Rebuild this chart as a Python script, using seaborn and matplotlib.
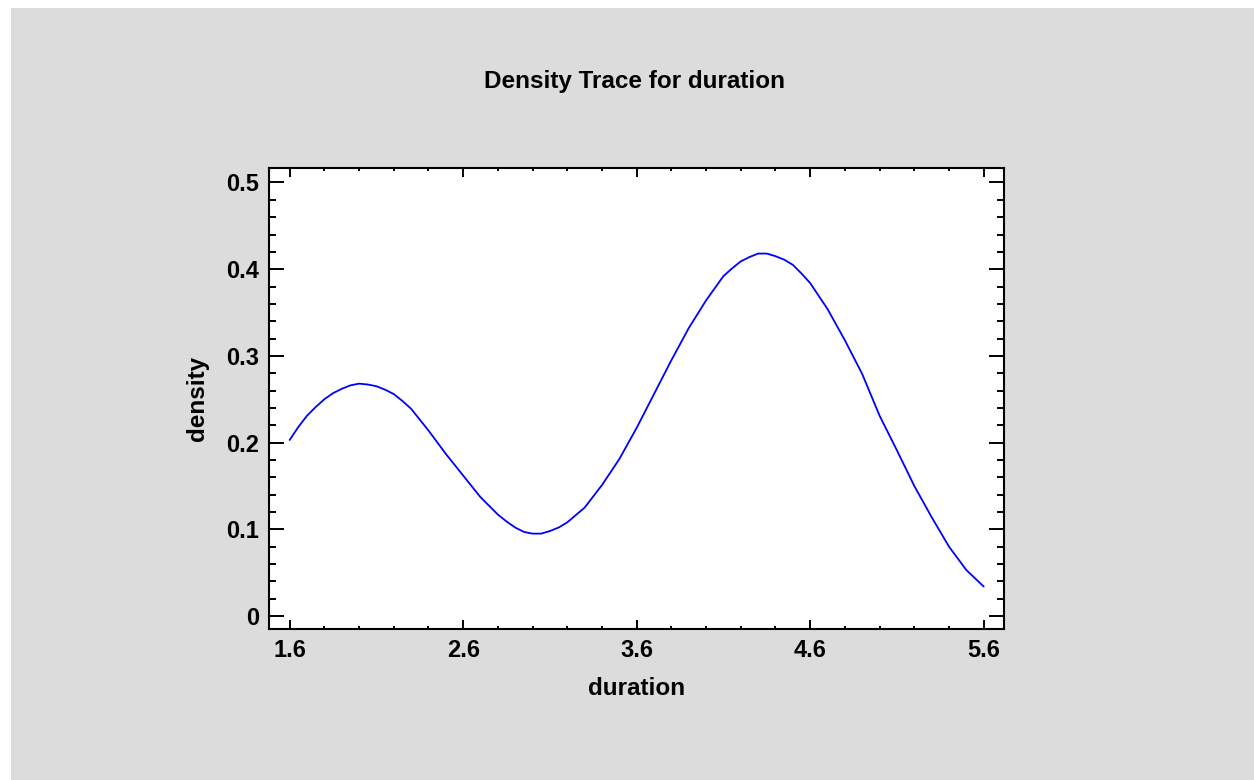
import numpy as np
import pandas as pd
import matplotlib
matplotlib.use('Agg')
import matplotlib.pyplot as plt
import matplotlib.patches as patches
from matplotlib.ticker import MultipleLocator, FixedLocator
import seaborn as sns

# density trace (every 0.1, plus extra reads near the bends)
duration = [1.6, 1.65, 1.7, 1.75, 1.8, 1.85, 1.9, 1.95, 2.0, 2.05, 2.1, 2.15, 2.2, 2.25,
            2.3, 2.4, 2.5, 2.6, 2.7, 2.8, 2.85, 2.9, 2.95, 3.0, 3.05, 3.1, 3.15, 3.2,
            3.3, 3.4, 3.5, 3.6, 3.7, 3.8, 3.9, 4.0, 4.1, 4.15, 4.2, 4.25, 4.3, 4.35,
            4.4, 4.45, 4.5, 4.55, 4.6, 4.7, 4.8, 4.9, 5.0, 5.1, 5.2, 5.3, 5.4, 5.5, 5.6]
density = [0.203, 0.218, 0.231, 0.241, 0.250, 0.257, 0.262, 0.266, 0.268, 0.267, 0.265, 0.261, 0.256, 0.248,
           0.239, 0.214, 0.187, 0.162, 0.137, 0.117, 0.109, 0.102, 0.097, 0.095, 0.095, 0.098, 0.102, 0.108,
           0.125, 0.151, 0.181, 0.217, 0.256, 0.295, 0.332, 0.364, 0.392, 0.401, 0.409, 0.414, 0.418, 0.418,
           0.415, 0.411, 0.405, 0.395, 0.384, 0.354, 0.318, 0.279, 0.231, 0.191, 0.150, 0.114, 0.080, 0.053, 0.034]

x_ticks = [1.6, 2.6, 3.6, 4.6, 5.6]
x_ticklabels = ['1.6', '2.6', '3.6', '4.6', '5.6']
y_ticks = [0, 0.1, 0.2, 0.3, 0.4, 0.5]
y_ticklabels = ['0', '0.1', '0.2', '0.3', '0.4', '0.5']

sns.set_style('ticks')
plt.rcParams['font.family'] = ['Liberation Sans', 'DejaVu Sans']
plt.rcParams['font.weight'] = 'bold'
plt.rcParams['text.color'] = 'black'
plt.rcParams['axes.labelcolor'] = 'black'

df = pd.DataFrame({'duration': duration, 'density': density})

fig = plt.figure(figsize=(12.54, 7.8), dpi=100, facecolor='white')
fig.patches.append(patches.Rectangle((11 / 1254, 0), 1, 1 - 8 / 780, transform=fig.transFigure,
                                     facecolor='#dcdcdc', edgecolor='none', zorder=-5))
ax = fig.add_axes([269 / 1254, 1 - 629 / 780, 735 / 1254, 461 / 780])
ax.set_facecolor('white')

sns.lineplot(data=df, x='duration', y='density', ax=ax, color='#0000ff', linewidth=1.3)

ax.set_xlim(1.481, 5.717)
ax.set_ylim(-0.015, 0.5167)

ax.xaxis.set_major_locator(FixedLocator(x_ticks))
ax.set_xticklabels(x_ticklabels)
ax.xaxis.set_minor_locator(MultipleLocator(0.2))
ax.yaxis.set_major_locator(FixedLocator(y_ticks))
ax.set_yticklabels(y_ticklabels)
ax.yaxis.set_minor_locator(MultipleLocator(0.02))

for s in ax.spines.values():
    s.set_visible(True)
    s.set_linewidth(1.5)
    s.set_color('black')

ax.tick_params(axis='both', which='both', direction='in', top=True, right=True,
               color='black', width=1.4, labelsize=17, labelcolor='black')
ax.tick_params(axis='x', which='major', length=6.7, pad=7)
ax.tick_params(axis='x', which='minor', length=2.5)
ax.tick_params(axis='y', which='major', length=10.5, pad=7)
ax.tick_params(axis='y', which='minor', length=4.7)
for lab in ax.get_xticklabels() + ax.get_yticklabels():
    lab.set_fontweight('bold')

ax.set_xlabel('duration', fontsize=17.5, fontweight='bold', va='baseline')
ax.xaxis.set_label_coords(0.5, (629 - 695) / 461)
ax.set_ylabel('density', fontsize=17.5, fontweight='bold', va='center', ha='center')
ax.yaxis.set_label_coords((197 - 269) / 735, 0.5)

fig.text(635 / 1254, 1 - 88 / 780, 'Density Trace for duration', ha='center', va='baseline',
         fontsize=17.5, fontweight='bold', color='black')

fig.savefig('out.png', dpi=100, facecolor=fig.get_facecolor())
